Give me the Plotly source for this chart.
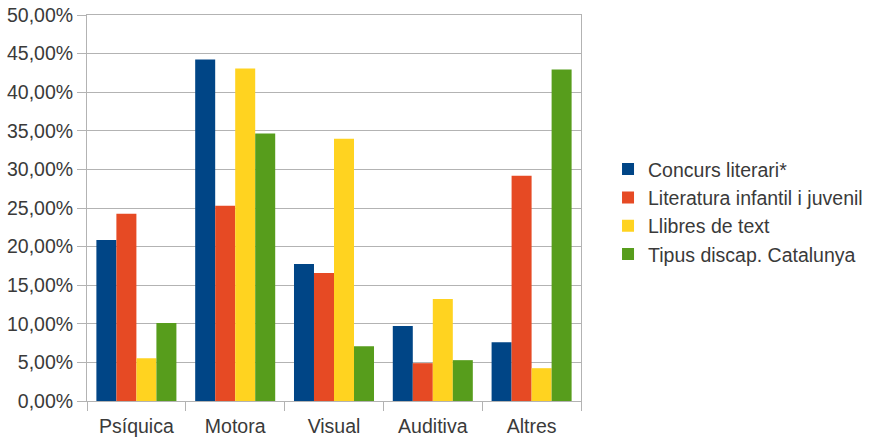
import plotly.graph_objects as go

categories = ["Psíquica", "Motora", "Visual", "Auditiva", "Altres"]
series_names = ["Concurs literari*", "Literatura infantil i juvenil", "Llibres de text", "Tipus discap. Catalunya"]
concurs = [20.87, 44.25, 17.75, 9.70, 7.62]
literatura = [24.25, 25.28, 16.58, 4.90, 29.18]
llibres = [5.54, 43.08, 33.98, 13.20, 4.25]
tipus = [10.09, 34.64, 7.10, 5.29, 42.95]
colors = ["#004586", "#e64a24", "#ffd320", "#579d1c"]
y_ticks = [0, 5, 10, 15, 20, 25, 30, 35, 40, 45, 50]
y_ticktext = [f"{v:.2f}".replace(".", ",") + "%" for v in y_ticks]

FONT = "Liberation Sans"
FS = 19.5
TXT = "#3a3a3a"
fig = go.Figure()
for name, vals, col in zip(series_names, [concurs, literatura, llibres, tipus], colors):
    fig.add_trace(go.Bar(name=name, x=categories, y=vals, marker=dict(color=col, line=dict(width=0))))

fig.update_layout(
    width=870, height=437,
    margin=dict(l=87, r=289, t=15, b=36, autoexpand=False),
    paper_bgcolor="white", plot_bgcolor="white",
    barmode="group", bargap=0.19, bargroupgap=0,
    font=dict(family=FONT, size=FS, color=TXT),
    legend=dict(x=1.0547, xanchor="left", y=0.49, yanchor="middle",
                font=dict(family=FONT, size=FS, color=TXT),
                itemwidth=30, traceorder="normal"),
    showlegend=True,
)
fig.update_yaxes(range=[0, 50], tickvals=y_ticks, ticktext=y_ticktext, automargin=False,
                 showgrid=True, gridcolor="#b3b3b3", gridwidth=1,
                 showline=True, linecolor="#b3b3b3", mirror=True,
                 ticks="outside", ticklen=9, tickcolor="#b3b3b3", zeroline=False)
fig.update_xaxes(showline=True, linecolor="#b3b3b3", mirror=True, automargin=False,
                 ticks="outside", ticklen=9, tickcolor="#b3b3b3", tickson="boundaries",
                 ticklabelstandoff=8, showgrid=False)
fig.write_html("out.html", config={"displayModeBar": False},
               post_script="document.body.style.margin='0px';")
